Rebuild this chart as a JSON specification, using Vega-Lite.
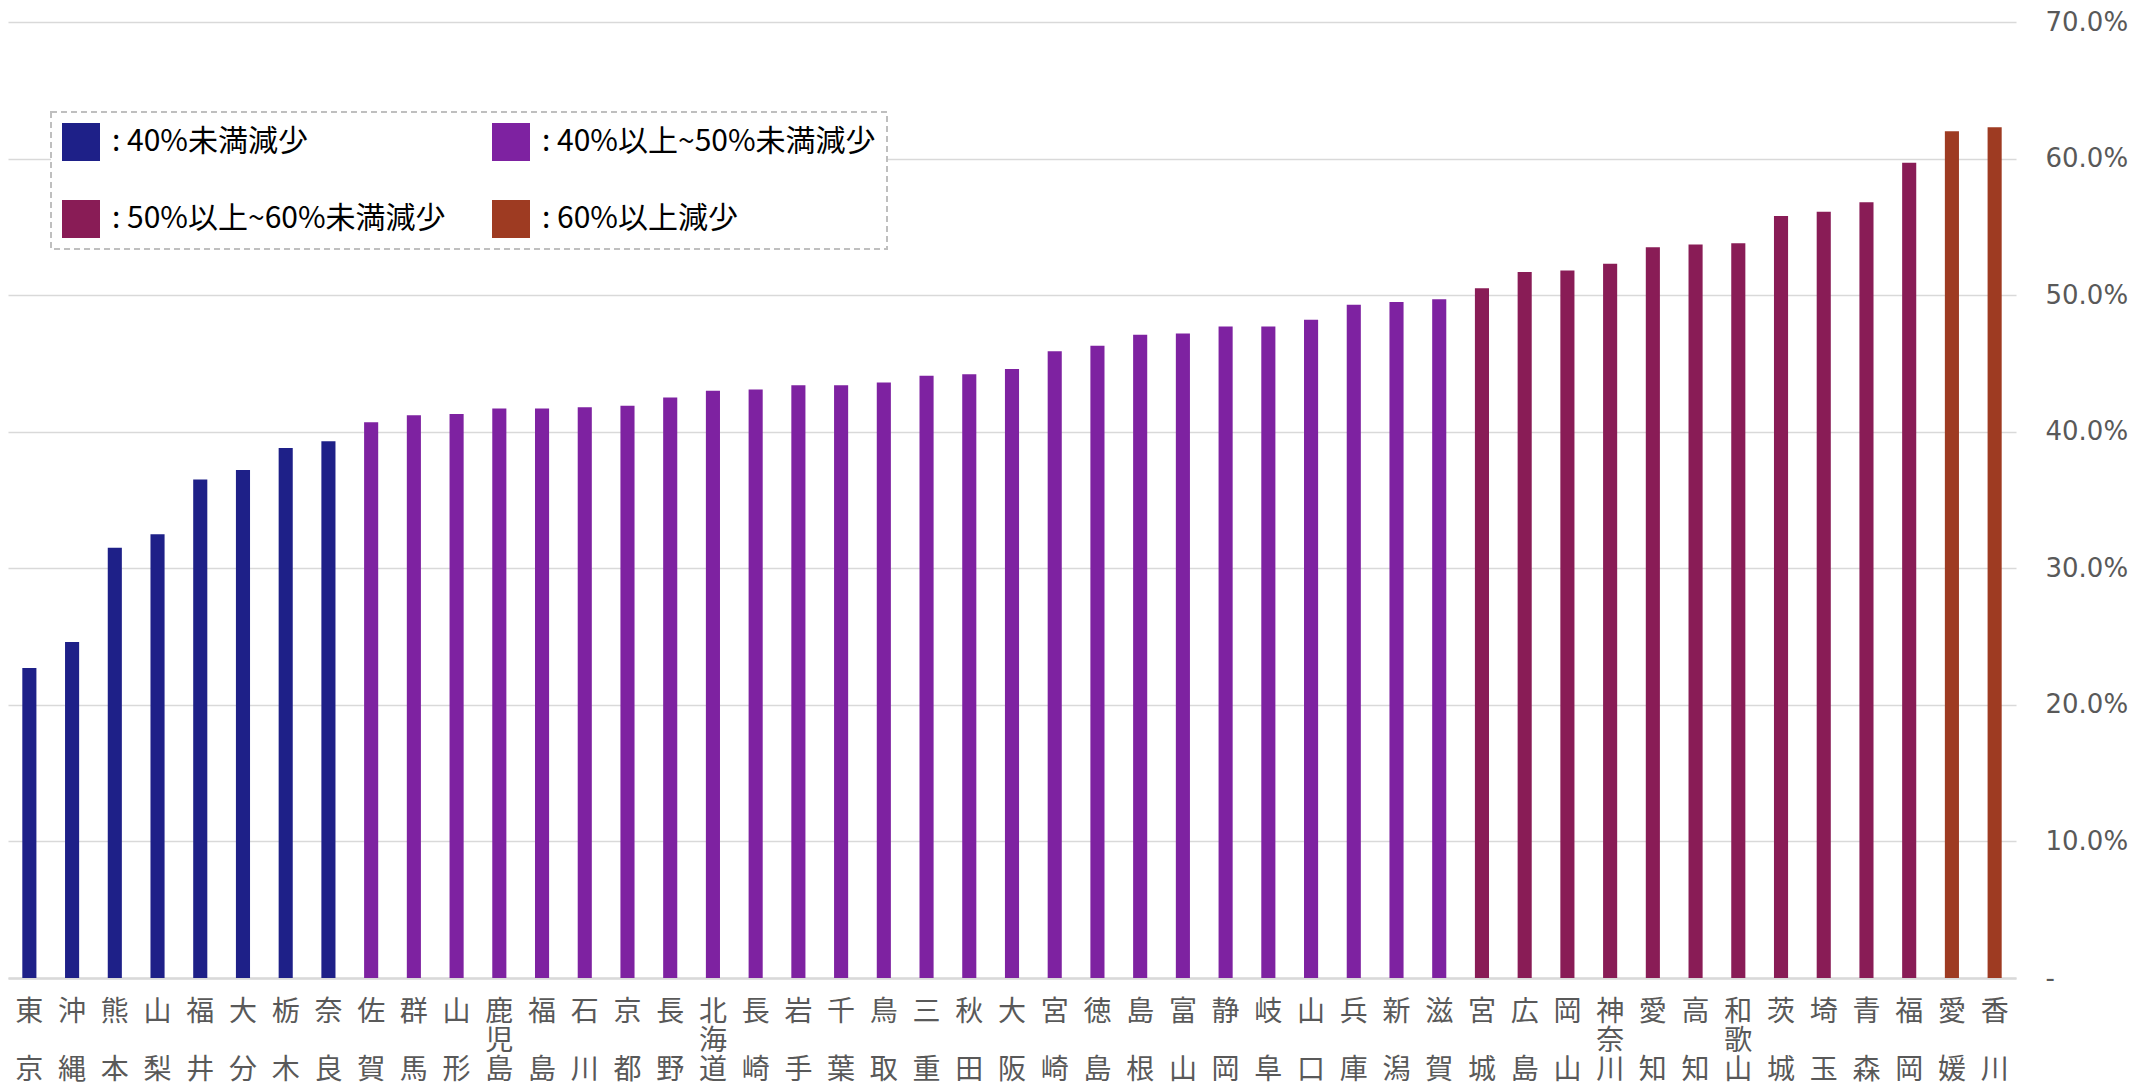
{
  "$schema": "https://vega.github.io/schema/vega-lite/v6.json",
  "width": 2008,
  "height": 956,
  "autosize": {"type": "none"},
  "padding": {"left": 8, "top": 22, "right": 140, "bottom": 104},
  "background": "white",
  "config": {"view": {"stroke": null}, "legend": {"gridAlign": "none"}},
  "data": {
    "values": [
      {"都道府県": "東京", "減少率": 22.7, "区分": "40%未満減少"},
      {"都道府県": "沖縄", "減少率": 24.6, "区分": "40%未満減少"},
      {"都道府県": "熊本", "減少率": 31.5, "区分": "40%未満減少"},
      {"都道府県": "山梨", "減少率": 32.5, "区分": "40%未満減少"},
      {"都道府県": "福井", "減少率": 36.5, "区分": "40%未満減少"},
      {"都道府県": "大分", "減少率": 37.2, "区分": "40%未満減少"},
      {"都道府県": "栃木", "減少率": 38.8, "区分": "40%未満減少"},
      {"都道府県": "奈良", "減少率": 39.3, "区分": "40%未満減少"},
      {"都道府県": "佐賀", "減少率": 40.7, "区分": "40%以上~50%未満減少"},
      {"都道府県": "群馬", "減少率": 41.2, "区分": "40%以上~50%未満減少"},
      {"都道府県": "山形", "減少率": 41.3, "区分": "40%以上~50%未満減少"},
      {"都道府県": "鹿児島", "減少率": 41.7, "区分": "40%以上~50%未満減少"},
      {"都道府県": "福島", "減少率": 41.7, "区分": "40%以上~50%未満減少"},
      {"都道府県": "石川", "減少率": 41.8, "区分": "40%以上~50%未満減少"},
      {"都道府県": "京都", "減少率": 41.9, "区分": "40%以上~50%未満減少"},
      {"都道府県": "長野", "減少率": 42.5, "区分": "40%以上~50%未満減少"},
      {"都道府県": "北海道", "減少率": 43.0, "区分": "40%以上~50%未満減少"},
      {"都道府県": "長崎", "減少率": 43.1, "区分": "40%以上~50%未満減少"},
      {"都道府県": "岩手", "減少率": 43.4, "区分": "40%以上~50%未満減少"},
      {"都道府県": "千葉", "減少率": 43.4, "区分": "40%以上~50%未満減少"},
      {"都道府県": "鳥取", "減少率": 43.6, "区分": "40%以上~50%未満減少"},
      {"都道府県": "三重", "減少率": 44.1, "区分": "40%以上~50%未満減少"},
      {"都道府県": "秋田", "減少率": 44.2, "区分": "40%以上~50%未満減少"},
      {"都道府県": "大阪", "減少率": 44.6, "区分": "40%以上~50%未満減少"},
      {"都道府県": "宮崎", "減少率": 45.9, "区分": "40%以上~50%未満減少"},
      {"都道府県": "徳島", "減少率": 46.3, "区分": "40%以上~50%未満減少"},
      {"都道府県": "島根", "減少率": 47.1, "区分": "40%以上~50%未満減少"},
      {"都道府県": "富山", "減少率": 47.2, "区分": "40%以上~50%未満減少"},
      {"都道府県": "静岡", "減少率": 47.7, "区分": "40%以上~50%未満減少"},
      {"都道府県": "岐阜", "減少率": 47.7, "区分": "40%以上~50%未満減少"},
      {"都道府県": "山口", "減少率": 48.2, "区分": "40%以上~50%未満減少"},
      {"都道府県": "兵庫", "減少率": 49.3, "区分": "40%以上~50%未満減少"},
      {"都道府県": "新潟", "減少率": 49.5, "区分": "40%以上~50%未満減少"},
      {"都道府県": "滋賀", "減少率": 49.7, "区分": "40%以上~50%未満減少"},
      {"都道府県": "宮城", "減少率": 50.5, "区分": "50%以上~60%未満減少"},
      {"都道府県": "広島", "減少率": 51.7, "区分": "50%以上~60%未満減少"},
      {"都道府県": "岡山", "減少率": 51.8, "区分": "50%以上~60%未満減少"},
      {"都道府県": "神奈川", "減少率": 52.3, "区分": "50%以上~60%未満減少"},
      {"都道府県": "愛知", "減少率": 53.5, "区分": "50%以上~60%未満減少"},
      {"都道府県": "高知", "減少率": 53.7, "区分": "50%以上~60%未満減少"},
      {"都道府県": "和歌山", "減少率": 53.8, "区分": "50%以上~60%未満減少"},
      {"都道府県": "茨城", "減少率": 55.8, "区分": "50%以上~60%未満減少"},
      {"都道府県": "埼玉", "減少率": 56.1, "区分": "50%以上~60%未満減少"},
      {"都道府県": "青森", "減少率": 56.8, "区分": "50%以上~60%未満減少"},
      {"都道府県": "福岡", "減少率": 59.7, "区分": "50%以上~60%未満減少"},
      {"都道府県": "愛媛", "減少率": 62.0, "区分": "60%以上減少"},
      {"都道府県": "香川", "減少率": 62.3, "区分": "60%以上減少"}
    ]
  },
  "mark": {"type": "bar"},
  "encoding": {
    "x": {
      "field": "都道府県",
      "type": "nominal",
      "sort": null,
      "scale": {"paddingInner": 0.67, "paddingOuter": 0.335},
      "axis": {
        "title": null,
        "labelAngle": 0,
        "labelOverlap": false,
        "labelFont": "Noto Sans CJK JP",
        "labelFontSize": 28,
        "labelLineHeight": 29,
        "labelColor": "#595959",
        "labelPadding": 20,
        "ticks": false,
        "domainColor": "#d9d9d9",
        "domainWidth": 2.5,
        "labelExpr": "length(datum.label) == 2 ? [substring(datum.label,0,1), '\u2800', substring(datum.label,1,2)] : [substring(datum.label,0,1), substring(datum.label,1,2), substring(datum.label,2,3)]"
      }
    },
    "y": {
      "field": "減少率",
      "type": "quantitative",
      "scale": {"domain": [0, 70], "nice": false},
      "axis": {
        "title": null,
        "orient": "right",
        "values": [0, 10, 20, 30, 40, 50, 60, 70],
        "labelExpr": "datum.value == 0 ? '-' : format(datum.value, '.1f') + '%'",
        "labelFont": "DejaVu Sans",
        "labelFontSize": 26,
        "labelColor": "#595959",
        "labelPadding": 29,
        "ticks": false,
        "domain": false,
        "gridColor": "#d9d9d9",
        "gridWidth": 1.5
      }
    },
    "color": {
      "field": "区分",
      "type": "nominal",
      "scale": {
        "domain": ["40%未満減少", "40%以上~50%未満減少", "50%以上~60%未満減少", "60%以上減少"],
        "range": ["#1e2088", "#7e22a1", "#891c56", "#9e3b22"]
      },
      "legend": {
        "title": null,
        "orient": "none",
        "legendX": 43,
        "legendY": 90,
        "direction": "horizontal",
        "columns": 2,
        "gridAlign": "none",
        "columnPadding": 46,
        "rowPadding": 39,
        "symbolType": "square",
        "symbolSize": 1444,
        "symbolStrokeWidth": 0,
        "labelFont": "Noto Sans CJK JP",
        "labelFontSize": 30,
        "labelColor": "#000000",
        "labelOffset": 12,
        "labelLimit": 1000,
        "labelExpr": "': ' + datum.label",
        "padding": 11,
        "strokeColor": "#bfbfbf",
        "fillColor": "white",
        "encode": {
          "legend": {
            "update": {
              "strokeDash": {"value": [6, 4]},
              "strokeWidth": {"value": 2}
            }
          }
        }
      }
    }
  }
}
